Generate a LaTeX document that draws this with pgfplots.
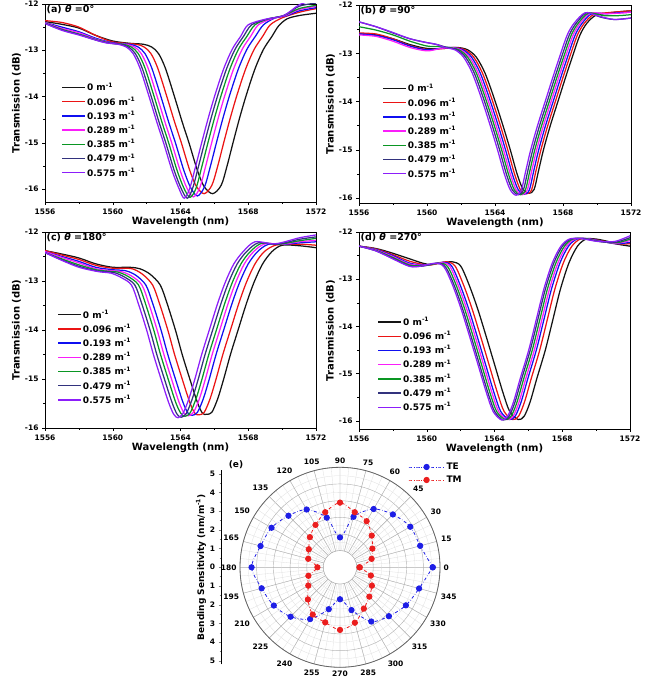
\documentclass[border=0pt]{standalone}
\usepackage{fontspec}
\setmainfont{DejaVu Sans}
\usepackage{pgfplots}
\pgfplotsset{compat=1.18}
\usepgfplotslibrary{polar}
\definecolor{c0}{RGB}{20,20,20}
\definecolor{c1}{RGB}{235,20,20}
\definecolor{c2}{RGB}{15,15,240}
\definecolor{c3}{RGB}{250,30,250}
\definecolor{c4}{RGB}{10,150,35}
\definecolor{c5}{RGB}{50,50,125}
\definecolor{c6}{RGB}{140,30,250}
\definecolor{pte}{RGB}{30,30,230}
\definecolor{ptm}{RGB}{235,30,30}
\tikzset{ttl/.style={anchor=north west, inner sep=1.5pt, font=\bfseries\fontsize{9.5}{9.5}\selectfont}}
\pgfplotsset{
  specax/.style={
    scale only axis, xmin=1556, xmax=1572,
    xtick={1556,1560,1564,1568,1572}, minor x tick num=1,
    ytick={-16,-15,-14,-13,-12}, minor y tick num=1,
    tick pos=left, tick align=outside,
    major tick length=3pt, minor tick length=2pt,
    tick style={black, line width=0.5pt},
    axis line style={line width=0.6pt},
    ticklabel style={font=\bfseries\fontsize{7.5}{7.5}\selectfont},
    /pgf/number format/assume math mode=true,
    /pgf/number format/1000 sep={},
    xlabel={Wavelength (nm)}, ylabel={Transmission (dB)},
    label style={font=\bfseries\fontsize{10}{10}\selectfont},
    xlabel style={yshift=4pt}, ylabel style={yshift=-3pt},
    legend style={draw=none, fill=none, inner sep=0pt, row sep=0pt,
      font=\bfseries\fontsize{9}{9}\selectfont,
      nodes={inner sep=1.2pt, minimum height=14.2pt}},
    legend cell align=left,
    legend image code/.code={\draw[#1, line width=1.4pt] (0pt,0pt) -- (23pt,0pt);},
    every axis plot/.append style={line width=1.25pt},
  },
}
\begin{document}
\begin{tikzpicture}
% ---------------- (a)
\begin{axis}[specax, at={(45pt,477pt)}, anchor=south west, width=271pt, height=198pt,
  ymin=-16.28, ymax=-12, legend style={at={(0.06,0.615)}, anchor=north west}]
\addplot[c0,smooth] coordinates {(1556,-12.38)(1557,-12.44)(1558,-12.52)(1559,-12.68)(1560,-12.8)(1561,-12.85)(1561.8,-12.87)(1562.3,-12.93)(1562.7,-13.07)(1563.1,-13.38)(1563.6,-13.95)(1564.1,-14.55)(1564.5,-15.0)(1565.0,-15.6)(1565.4,-15.95)(1565.9,-16.1)(1566.4,-15.92)(1566.75,-15.5)(1567.1,-15.0)(1567.5,-14.45)(1567.9,-13.95)(1568.4,-13.4)(1568.9,-12.98)(1569.4,-12.7)(1569.8,-12.47)(1570.3,-12.32)(1571,-12.25)(1572,-12.2)};
\addplot[c1,smooth] coordinates {(1556,-12.36)(1557,-12.4)(1558,-12.5)(1559,-12.68)(1560,-12.82)(1561.35,-12.87)(1561.85,-12.93)(1562.25,-13.07)(1562.65,-13.38)(1563.15,-13.95)(1563.65,-14.55)(1564.05,-15.0)(1564.55,-15.6)(1564.95,-15.95)(1565.4,-16.1)(1565.85,-15.92)(1566.2,-15.5)(1566.55,-15.0)(1566.95,-14.45)(1567.35,-13.95)(1567.85,-13.4)(1568.35,-12.98)(1568.85,-12.7)(1569.3,-12.45)(1570,-12.3)(1571,-12.18)(1572,-12.1)};
\addplot[c2,smooth] coordinates {(1556,-12.4)(1557,-12.5)(1558,-12.6)(1559,-12.74)(1560,-12.84)(1561.0,-12.87)(1561.5,-12.93)(1561.9,-13.07)(1562.3,-13.38)(1562.8,-13.95)(1563.3,-14.55)(1563.7,-15.0)(1564.2,-15.6)(1564.6,-15.97)(1565.0,-16.15)(1565.42,-15.95)(1565.77,-15.5)(1566.12,-15.0)(1566.52,-14.45)(1566.92,-13.95)(1567.42,-13.4)(1567.92,-12.98)(1568.42,-12.7)(1568.9,-12.45)(1569.6,-12.3)(1570.3,-12.25)(1571,-12.15)(1572,-12.08)};
\addplot[c3,smooth] coordinates {(1556,-12.4)(1557,-12.53)(1558,-12.62)(1559,-12.76)(1560,-12.85)(1560.78,-12.87)(1561.28,-12.93)(1561.68,-13.07)(1562.08,-13.38)(1562.58,-13.95)(1563.08,-14.55)(1563.48,-15.0)(1563.98,-15.6)(1564.38,-15.98)(1564.76,-16.17)(1565.14,-15.97)(1565.49,-15.5)(1565.84,-15.0)(1566.24,-14.45)(1566.64,-13.95)(1567.14,-13.4)(1567.64,-12.98)(1568.14,-12.7)(1568.6,-12.45)(1569.4,-12.32)(1570.2,-12.25)(1571,-12.12)(1572,-12.05)};
\addplot[c4,smooth] coordinates {(1556,-12.41)(1557,-12.55)(1558,-12.65)(1559,-12.77)(1559.9,-12.85)(1560.6,-12.87)(1561.1,-12.93)(1561.5,-13.07)(1561.9,-13.38)(1562.4,-13.95)(1562.9,-14.55)(1563.3,-15.0)(1563.8,-15.6)(1564.2,-15.98)(1564.56,-16.18)(1564.92,-15.98)(1565.27,-15.5)(1565.62,-15.0)(1566.02,-14.45)(1566.42,-13.95)(1566.92,-13.4)(1567.42,-12.98)(1567.92,-12.7)(1568.4,-12.45)(1569.2,-12.32)(1570.1,-12.25)(1571,-12.1)(1572,-12.03)};
\addplot[c5,smooth] coordinates {(1556,-12.42)(1557,-12.56)(1558,-12.66)(1559,-12.78)(1559.7,-12.84)(1560.43,-12.87)(1560.93,-12.93)(1561.33,-13.07)(1561.73,-13.38)(1562.23,-13.95)(1562.73,-14.55)(1563.13,-15.0)(1563.63,-15.6)(1564.03,-15.98)(1564.4,-16.2)(1564.72,-15.98)(1565.07,-15.5)(1565.42,-15.0)(1565.82,-14.45)(1566.22,-13.95)(1566.72,-13.4)(1567.22,-12.98)(1567.72,-12.7)(1568.2,-12.45)(1569.1,-12.33)(1570.1,-12.25)(1571,-12.05)(1572,-11.98)};
\addplot[c6,smooth] coordinates {(1556,-12.42)(1557,-12.57)(1558,-12.67)(1559,-12.78)(1559.6,-12.84)(1560.3,-12.87)(1560.8,-12.93)(1561.2,-13.07)(1561.6,-13.38)(1562.1,-13.95)(1562.6,-14.55)(1563.0,-15.0)(1563.5,-15.6)(1563.9,-15.98)(1564.22,-16.2)(1564.55,-15.98)(1564.9,-15.5)(1565.25,-15.0)(1565.65,-14.45)(1566.05,-13.95)(1566.55,-13.4)(1567.05,-12.98)(1567.55,-12.7)(1568.0,-12.45)(1569,-12.33)(1570.1,-12.25)(1571,-12.02)(1572,-11.9)};
\legend{0 m\textsuperscript{-1},0.096 m\textsuperscript{-1},0.193 m\textsuperscript{-1},0.289 m\textsuperscript{-1},0.385 m\textsuperscript{-1},0.479 m\textsuperscript{-1},0.575 m\textsuperscript{-1}}
\node[ttl] at (rel axis cs:0,1) {(a) \textit{θ} =0°};
\end{axis}
% ---------------- (b)
\begin{axis}[specax, at={(359pt,476pt)}, anchor=south west, width=272pt, height=198pt,
  ymin=-16.1, ymax=-12, legend style={at={(0.085,0.615)}, anchor=north west}]
\addplot[c0,smooth] coordinates {(1556,-12.6)(1557,-12.62)(1558,-12.7)(1559,-12.82)(1560,-12.9)(1561,-12.9)(1561.8,-12.88)(1562.4,-12.93)(1562.9,-13.08)(1563.4,-13.4)(1563.9,-13.88)(1564.4,-14.42)(1564.9,-15.0)(1565.3,-15.5)(1565.65,-15.82)(1566.0,-15.9)(1566.3,-15.82)(1566.55,-15.45)(1566.85,-15.0)(1567.25,-14.5)(1567.7,-14.0)(1568.15,-13.5)(1568.6,-13.02)(1569.0,-12.62)(1569.4,-12.38)(1569.9,-12.22)(1570.6,-12.17)(1571.3,-12.14)(1572,-12.12)};
\addplot[c1,smooth] coordinates {(1556,-12.58)(1557,-12.6)(1558,-12.7)(1559,-12.84)(1560,-12.92)(1561,-12.9)(1561.65,-12.88)(1562.25,-12.93)(1562.75,-13.08)(1563.25,-13.4)(1563.75,-13.88)(1564.25,-14.42)(1564.75,-15.0)(1565.15,-15.5)(1565.5,-15.83)(1565.85,-15.91)(1566.15,-15.83)(1566.4,-15.45)(1566.7,-15.0)(1567.1,-14.5)(1567.55,-14.0)(1568.0,-13.5)(1568.45,-13.02)(1568.85,-12.62)(1569.25,-12.38)(1569.8,-12.2)(1570.6,-12.16)(1571.3,-12.14)(1572,-12.12)};
\addplot[c2,smooth] coordinates {(1556,-12.6)(1557,-12.63)(1558,-12.72)(1559,-12.85)(1560,-12.93)(1560.9,-12.89)(1561.52,-12.88)(1562.12,-12.93)(1562.62,-13.08)(1563.12,-13.4)(1563.62,-13.88)(1564.12,-14.42)(1564.62,-15.0)(1565.02,-15.5)(1565.37,-15.83)(1565.72,-15.92)(1566.02,-15.83)(1566.27,-15.45)(1566.57,-15.0)(1566.97,-14.5)(1567.42,-14.0)(1567.87,-13.5)(1568.32,-13.02)(1568.72,-12.62)(1569.12,-12.38)(1569.7,-12.18)(1570.6,-12.18)(1571.3,-12.16)(1572,-12.15)};
\addplot[c3,smooth] coordinates {(1556,-12.62)(1557,-12.65)(1558,-12.75)(1559,-12.88)(1560,-12.95)(1560.8,-12.9)(1561.4,-12.88)(1562.0,-12.93)(1562.5,-13.08)(1563.0,-13.4)(1563.5,-13.88)(1564.0,-14.42)(1564.5,-15.0)(1564.9,-15.5)(1565.25,-15.83)(1565.6,-15.93)(1565.9,-15.83)(1566.15,-15.45)(1566.45,-15.0)(1566.85,-14.5)(1567.3,-14.0)(1567.75,-13.5)(1568.2,-13.02)(1568.6,-12.62)(1569.0,-12.38)(1569.6,-12.17)(1570.5,-12.18)(1571.3,-12.17)(1572,-12.15)};
\addplot[c4,smooth] coordinates {(1556,-12.45)(1557,-12.52)(1558,-12.62)(1559,-12.75)(1560,-12.85)(1560.7,-12.86)(1561.29,-12.88)(1561.89,-12.93)(1562.39,-13.08)(1562.89,-13.4)(1563.39,-13.88)(1563.89,-14.42)(1564.39,-15.0)(1564.79,-15.5)(1565.14,-15.83)(1565.49,-15.93)(1565.79,-15.83)(1566.04,-15.45)(1566.34,-15.0)(1566.74,-14.5)(1567.19,-14.0)(1567.64,-13.5)(1568.09,-13.02)(1568.49,-12.62)(1568.89,-12.38)(1569.5,-12.17)(1570.4,-12.22)(1571.3,-12.22)(1572,-12.2)};
\addplot[c5,smooth] coordinates {(1556,-12.35)(1557,-12.45)(1558,-12.58)(1559,-12.7)(1560,-12.78)(1560.6,-12.82)(1561.17,-12.88)(1561.77,-12.93)(1562.27,-13.08)(1562.77,-13.4)(1563.27,-13.88)(1563.77,-14.42)(1564.27,-15.0)(1564.67,-15.5)(1565.02,-15.83)(1565.37,-15.93)(1565.67,-15.83)(1565.92,-15.45)(1566.22,-15.0)(1566.62,-14.5)(1567.07,-14.0)(1567.52,-13.5)(1567.97,-13.02)(1568.37,-12.62)(1568.77,-12.38)(1569.4,-12.16)(1570.2,-12.25)(1571,-12.3)(1572,-12.27)};
\addplot[c6,smooth] coordinates {(1556,-12.35)(1557,-12.45)(1558,-12.57)(1559,-12.7)(1560,-12.78)(1560.5,-12.81)(1561.05,-12.88)(1561.65,-12.93)(1562.15,-13.08)(1562.65,-13.4)(1563.15,-13.88)(1563.65,-14.42)(1564.15,-15.0)(1564.55,-15.5)(1564.9,-15.83)(1565.25,-15.94)(1565.55,-15.83)(1565.8,-15.45)(1566.1,-15.0)(1566.5,-14.5)(1566.95,-14.0)(1567.4,-13.5)(1567.85,-13.02)(1568.25,-12.62)(1568.65,-12.38)(1569.3,-12.16)(1570,-12.22)(1571,-12.3)(1572,-12.27)};
\legend{0 m\textsuperscript{-1},0.096 m\textsuperscript{-1},0.193 m\textsuperscript{-1},0.289 m\textsuperscript{-1},0.385 m\textsuperscript{-1},0.479 m\textsuperscript{-1},0.575 m\textsuperscript{-1}}
\node[ttl] at (rel axis cs:0,1) {(b) \textit{θ} =90°};
\end{axis}
% ---------------- (c)
\begin{axis}[specax, at={(45pt,251pt)}, anchor=south west, width=271pt, height=196pt,
  ymin=-16, ymax=-12, legend style={at={(0.045,0.615)}, anchor=north west}]
\addplot[c0,smooth] coordinates {(1556,-12.38)(1557,-12.45)(1558,-12.53)(1559,-12.65)(1560,-12.72)(1561,-12.72)(1561.6,-12.75)(1562.2,-12.86)(1562.8,-13.08)(1563.2,-13.45)(1563.7,-14.0)(1564.1,-14.5)(1564.55,-15.0)(1565.0,-15.48)(1565.3,-15.7)(1565.55,-15.72)(1565.85,-15.68)(1566.2,-15.4)(1566.55,-15.0)(1566.95,-14.5)(1567.4,-14.0)(1567.9,-13.45)(1568.35,-13.02)(1568.85,-12.65)(1569.4,-12.4)(1570,-12.27)(1571,-12.28)(1572,-12.32)};
\addplot[c1,smooth] coordinates {(1556,-12.38)(1557,-12.47)(1558,-12.56)(1559,-12.68)(1560,-12.74)(1560.6,-12.74)(1561.15,-12.75)(1561.75,-12.86)(1562.35,-13.08)(1562.75,-13.45)(1563.25,-14.0)(1563.65,-14.5)(1564.1,-15.0)(1564.55,-15.48)(1564.85,-15.7)(1565.1,-15.73)(1565.4,-15.68)(1565.75,-15.4)(1566.1,-15.0)(1566.5,-14.5)(1566.95,-14.0)(1567.45,-13.45)(1567.9,-13.02)(1568.4,-12.65)(1568.95,-12.4)(1569.6,-12.27)(1570.4,-12.25)(1571.2,-12.25)(1572,-12.27)};
\addplot[c2,smooth] coordinates {(1556,-12.4)(1557,-12.5)(1558,-12.6)(1559,-12.72)(1560,-12.77)(1560.75,-12.79)(1561.35,-12.88)(1561.95,-13.08)(1562.35,-13.45)(1562.85,-14.0)(1563.25,-14.5)(1563.7,-15.0)(1564.15,-15.48)(1564.45,-15.7)(1564.7,-15.74)(1565.0,-15.68)(1565.35,-15.4)(1565.7,-15.0)(1566.1,-14.5)(1566.55,-14.0)(1567.05,-13.45)(1567.5,-13.02)(1568.0,-12.65)(1568.55,-12.4)(1569.2,-12.25)(1570.2,-12.25)(1571.1,-12.22)(1572,-12.2)};
\addplot[c3,smooth] coordinates {(1556,-12.4)(1557,-12.52)(1558,-12.63)(1559,-12.75)(1559.9,-12.79)(1560.52,-12.81)(1561.12,-12.9)(1561.72,-13.08)(1562.12,-13.45)(1562.62,-14.0)(1563.02,-14.5)(1563.47,-15.0)(1563.92,-15.48)(1564.22,-15.7)(1564.47,-15.75)(1564.77,-15.68)(1565.12,-15.4)(1565.47,-15.0)(1565.87,-14.5)(1566.32,-14.0)(1566.82,-13.45)(1567.27,-13.02)(1567.77,-12.65)(1568.32,-12.4)(1569,-12.24)(1570,-12.25)(1571,-12.2)(1572,-12.17)};
\addplot[c4,smooth] coordinates {(1556,-12.42)(1557,-12.55)(1558,-12.67)(1559,-12.77)(1559.7,-12.8)(1560.32,-12.82)(1560.92,-12.91)(1561.52,-13.08)(1561.92,-13.45)(1562.42,-14.0)(1562.82,-14.5)(1563.27,-15.0)(1563.72,-15.48)(1564.02,-15.7)(1564.27,-15.76)(1564.57,-15.69)(1564.92,-15.4)(1565.27,-15.0)(1565.67,-14.5)(1566.12,-14.0)(1566.62,-13.45)(1567.07,-13.02)(1567.57,-12.65)(1568.12,-12.4)(1568.8,-12.23)(1569.8,-12.25)(1571,-12.18)(1572,-12.13)};
\addplot[c5,smooth] coordinates {(1556,-12.42)(1557,-12.57)(1558,-12.7)(1559,-12.79)(1559.5,-12.81)(1560.1,-12.83)(1560.7,-12.92)(1561.3,-13.08)(1561.7,-13.45)(1562.2,-14.0)(1562.6,-14.5)(1563.05,-15.0)(1563.5,-15.48)(1563.8,-15.72)(1564.05,-15.78)(1564.35,-15.7)(1564.7,-15.4)(1565.05,-15.0)(1565.45,-14.5)(1565.9,-14.0)(1566.4,-13.45)(1566.85,-13.02)(1567.35,-12.65)(1567.9,-12.4)(1568.6,-12.22)(1569.7,-12.25)(1571,-12.15)(1572,-12.1)};
\addplot[c6,smooth] coordinates {(1556,-12.42)(1557,-12.58)(1558,-12.72)(1559,-12.8)(1559.4,-12.82)(1559.9,-12.84)(1560.5,-12.93)(1561.1,-13.08)(1561.5,-13.45)(1562.0,-14.0)(1562.4,-14.5)(1562.85,-15.0)(1563.3,-15.48)(1563.6,-15.72)(1563.85,-15.79)(1564.15,-15.7)(1564.5,-15.4)(1564.85,-15.0)(1565.25,-14.5)(1565.7,-14.0)(1566.2,-13.45)(1566.65,-13.02)(1567.15,-12.65)(1567.7,-12.4)(1568.4,-12.2)(1569.6,-12.24)(1571,-12.12)(1572,-12.06)};
\legend{0 m\textsuperscript{-1},0.096 m\textsuperscript{-1},0.193 m\textsuperscript{-1},0.289 m\textsuperscript{-1},0.385 m\textsuperscript{-1},0.479 m\textsuperscript{-1},0.575 m\textsuperscript{-1}}
\node[ttl] at (rel axis cs:0,1) {(c) \textit{θ} =180°};
\end{axis}
% ---------------- (d)
\begin{axis}[specax, at={(359pt,250pt)}, anchor=south west, width=271pt, height=197pt,
  ymin=-16.17, ymax=-12, legend style={at={(0.068,0.58)}, anchor=north west}]
\addplot[c0,smooth] coordinates {(1556,-12.3)(1557,-12.35)(1558,-12.45)(1559,-12.57)(1560,-12.68)(1560.8,-12.66)(1561.5,-12.63)(1562.0,-12.72)(1562.5,-13.12)(1563.0,-13.62)(1563.5,-14.2)(1564.0,-14.8)(1564.5,-15.4)(1564.9,-15.8)(1565.4,-15.97)(1565.75,-15.9)(1566.1,-15.6)(1566.5,-15.1)(1567.0,-14.5)(1567.45,-13.85)(1567.9,-13.2)(1568.4,-12.65)(1568.9,-12.3)(1569.4,-12.15)(1570,-12.15)(1570.7,-12.2)(1571.3,-12.26)(1572,-12.3)};
\addplot[c1,smooth] coordinates {(1556,-12.3)(1557,-12.36)(1558,-12.48)(1559,-12.62)(1560,-12.7)(1560.5,-12.68)(1561.17,-12.63)(1561.67,-12.72)(1562.17,-13.12)(1562.67,-13.62)(1563.17,-14.2)(1563.67,-14.8)(1564.17,-15.4)(1564.57,-15.8)(1565.07,-15.97)(1565.42,-15.9)(1565.77,-15.6)(1566.17,-15.1)(1566.67,-14.5)(1567.12,-13.85)(1567.57,-13.2)(1568.07,-12.65)(1568.57,-12.3)(1569.07,-12.15)(1569.7,-12.15)(1570.5,-12.2)(1571.2,-12.25)(1572,-12.25)};
\addplot[c2,smooth] coordinates {(1556,-12.3)(1557,-12.37)(1558,-12.5)(1559,-12.66)(1560,-12.7)(1560.97,-12.64)(1561.47,-12.72)(1561.97,-13.12)(1562.47,-13.62)(1562.97,-14.2)(1563.47,-14.8)(1563.97,-15.4)(1564.37,-15.8)(1564.87,-15.97)(1565.22,-15.9)(1565.57,-15.6)(1565.97,-15.1)(1566.47,-14.5)(1566.92,-13.85)(1567.37,-13.2)(1567.87,-12.65)(1568.37,-12.3)(1568.87,-12.15)(1569.5,-12.14)(1570.4,-12.2)(1571.2,-12.25)(1572,-12.22)};
\addplot[c3,smooth] coordinates {(1556,-12.3)(1557,-12.38)(1558,-12.52)(1559,-12.68)(1560,-12.7)(1560.85,-12.65)(1561.35,-12.72)(1561.85,-13.12)(1562.35,-13.62)(1562.85,-14.2)(1563.35,-14.8)(1563.85,-15.4)(1564.25,-15.8)(1564.75,-15.97)(1565.1,-15.9)(1565.45,-15.6)(1565.85,-15.1)(1566.35,-14.5)(1566.8,-13.85)(1567.25,-13.2)(1567.75,-12.65)(1568.25,-12.3)(1568.75,-12.15)(1569.4,-12.14)(1570.3,-12.2)(1571.2,-12.24)(1572,-12.18)};
\addplot[c4,smooth] coordinates {(1556,-12.3)(1557,-12.39)(1558,-12.54)(1559,-12.7)(1559.9,-12.71)(1560.73,-12.66)(1561.23,-12.73)(1561.73,-13.12)(1562.23,-13.62)(1562.73,-14.2)(1563.23,-14.8)(1563.73,-15.4)(1564.13,-15.8)(1564.63,-15.97)(1564.98,-15.9)(1565.33,-15.6)(1565.73,-15.1)(1566.23,-14.5)(1566.68,-13.85)(1567.13,-13.2)(1567.63,-12.65)(1568.13,-12.3)(1568.63,-12.15)(1569.3,-12.14)(1570.2,-12.2)(1571.2,-12.23)(1572,-12.15)};
\addplot[c5,smooth] coordinates {(1556,-12.3)(1557,-12.4)(1558,-12.56)(1559,-12.72)(1559.8,-12.72)(1560.61,-12.66)(1561.11,-12.74)(1561.61,-13.12)(1562.11,-13.62)(1562.61,-14.2)(1563.11,-14.8)(1563.61,-15.4)(1564.01,-15.8)(1564.51,-15.98)(1564.86,-15.9)(1565.21,-15.6)(1565.61,-15.1)(1566.11,-14.5)(1566.56,-13.85)(1567.01,-13.2)(1567.51,-12.65)(1568.01,-12.3)(1568.51,-12.15)(1569.2,-12.14)(1570.2,-12.2)(1571.1,-12.22)(1572,-12.12)};
\addplot[c6,smooth] coordinates {(1556,-12.3)(1557,-12.4)(1558,-12.57)(1559,-12.73)(1559.7,-12.72)(1560.52,-12.66)(1561.02,-12.74)(1561.52,-13.12)(1562.02,-13.62)(1562.52,-14.2)(1563.02,-14.8)(1563.52,-15.4)(1563.92,-15.8)(1564.42,-15.98)(1564.77,-15.9)(1565.12,-15.6)(1565.52,-15.1)(1566.02,-14.5)(1566.47,-13.85)(1566.92,-13.2)(1567.42,-12.65)(1567.92,-12.3)(1568.42,-12.15)(1569.1,-12.14)(1570.1,-12.2)(1571.1,-12.2)(1572,-12.08)};
\legend{0 m\textsuperscript{-1},0.096 m\textsuperscript{-1},0.193 m\textsuperscript{-1},0.289 m\textsuperscript{-1},0.385 m\textsuperscript{-1},0.479 m\textsuperscript{-1},0.575 m\textsuperscript{-1}}
\node[ttl] at (rel axis cs:0,1) {(d) \textit{θ} =270°};
\end{axis}
% ---------------- (e) polar
\begin{polaraxis}[at={(340pt,111.7pt)}, anchor=center, scale only axis,
  width=200pt, height=200pt, ymin=0, ymax=5.35,
  xtick={0,15,...,345}, minor xtick={0,5,...,355},
  ytick={0.89,1.78,2.67,3.56,4.46,5.35}, yticklabels={},
  minor ytick={1.34,2.23,3.12,4.01,4.9},
  grid=both, major grid style={gray!60, line width=0.45pt},
  minor grid style={gray!25, line width=0.3pt},
  tick style={draw=none},
  y axis line style={draw=none},
  x axis line style={gray!80!black, line width=0.8pt},
  xticklabel style={font=\bfseries\fontsize{7.5}{7.5}\selectfont},
  /pgf/number format/assume math mode=true,
  legend style={draw=none, fill=none, at={(0.84,1.035)}, anchor=north west,
    font=\bfseries\fontsize{9}{9}\selectfont, inner sep=0pt, row sep=0pt,
    nodes={inner sep=1.5pt, minimum height=13pt}},
  legend cell align=left,
  legend image code/.code={\draw[mark repeat=2,mark phase=2,#1] plot coordinates {(0pt,0pt)(18pt,0pt)(36pt,0pt)};},
]
\fill[white, draw=gray!70] (axis cs:0,0) circle[radius=16.7pt];
\addplot[pte, dash dot, line width=0.8pt, smooth, tension=0.5, mark=*, mark size=2.7pt, mark options={solid, fill=pte}] coordinates {(0,4.96)(15,4.44)(30,4.34)(45,4.0)(60,3.6)(75,2.8)(90,1.6)(105,2.75)(120,3.57)(135,3.9)(150,4.23)(165,4.4)(180,4.73)(195,4.34)(210,4.09)(225,3.74)(240,3.2)(255,2.32)(270,1.71)(285,2.37)(300,3.35)(315,3.7)(330,4.07)(345,4.38)(360,4.96)};
\addlegendentry{TE}
\addplot[ptm, dash dot, line width=0.8pt, smooth, tension=0.5, mark=*, mark size=2.7pt, mark options={solid, fill=ptm}] coordinates {(0,1.05)(15,1.75)(30,2.0)(45,2.4)(60,2.85)(75,3.05)(90,3.46)(105,3.05)(120,2.62)(135,2.28)(150,1.93)(165,1.76)(180,1.21)(195,1.75)(210,1.96)(225,2.43)(240,2.92)(255,3.05)(270,3.35)(285,3.07)(300,2.55)(315,2.22)(330,1.97)(345,1.71)(360,1.05)};
\addlegendentry{TM}
\end{polaraxis}
% left radial scale
\begin{axis}[at={(221.7pt,14.5pt)}, anchor=south west, scale only axis,
  width=1pt, height=194.5pt, xmin=0, xmax=1, ymin=-5.2, ymax=5.2,
  axis x line=none, axis y line*=left,
  ytick={-5,-4,-3,-2,-1,0,1,2,3,4,5}, yticklabels={5,4,3,2,1,0,1,2,3,4,5},
  minor y tick num=1, tick align=outside, major tick length=3pt, minor tick length=2pt,
  ticklabel style={font=\bfseries\fontsize{7.5}{7.5}\selectfont},
  ylabel={Bending Sensitivity (nm/m\textsuperscript{-1})},
  ylabel style={font=\bfseries\fontsize{9}{9}\selectfont, yshift=-3pt},
  axis line style={line width=0.6pt}]
\addplot[draw=none] coordinates {(0,0)};
\end{axis}
\node[anchor=center, font=\bfseries\fontsize{9}{9}\selectfont] at (236pt,214pt) {(e)};
\pgfresetboundingbox
\path[use as bounding box] (0,0) rectangle (660pt,679pt);
\end{tikzpicture}
\end{document}
